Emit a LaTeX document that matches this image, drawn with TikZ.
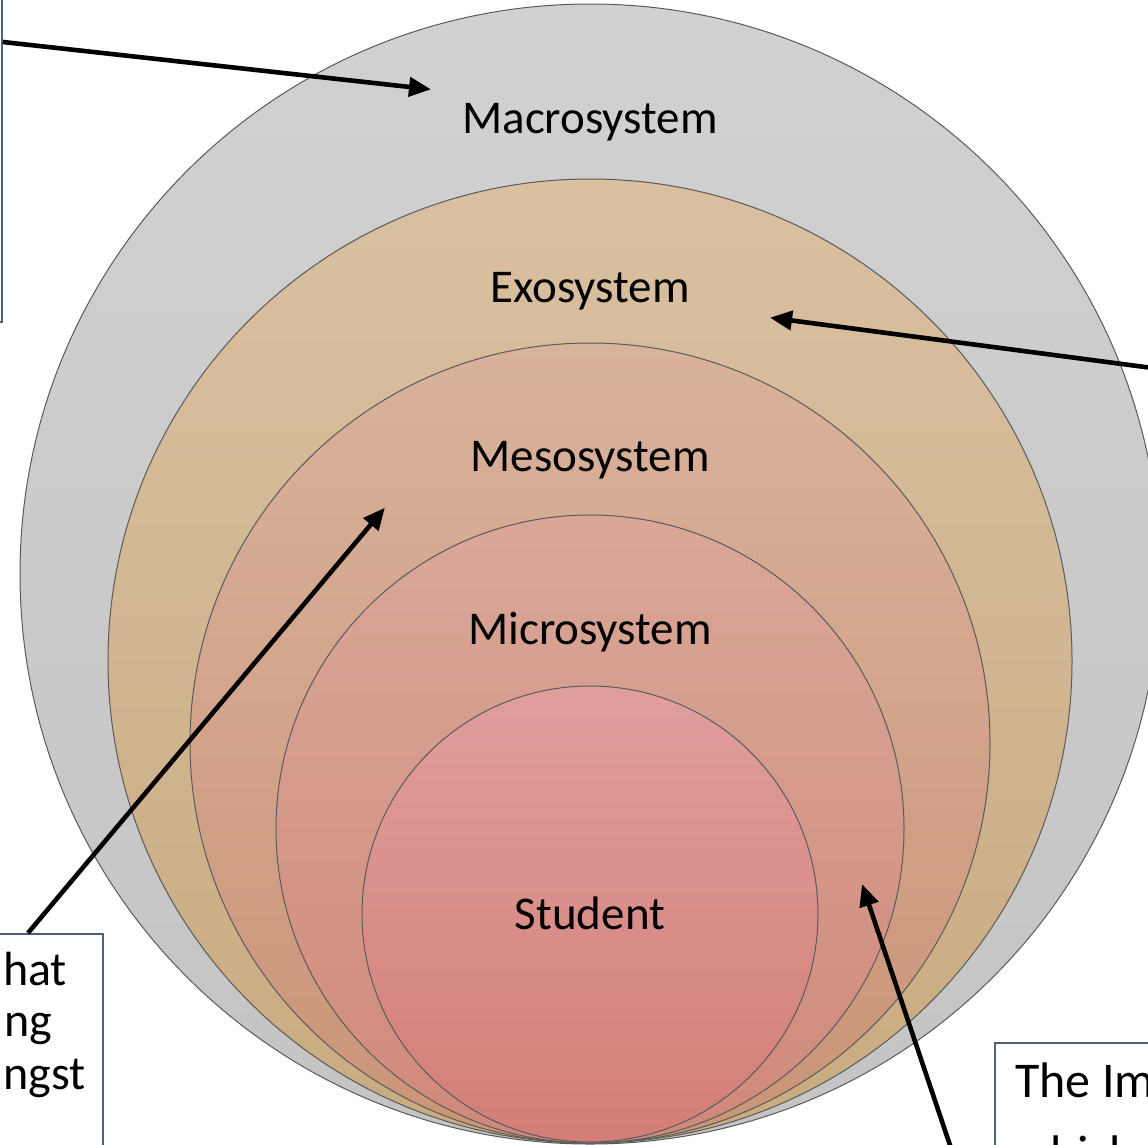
\documentclass[tikz,border=0pt]{standalone}
\usepackage{fontspec}
\setmainfont{Carlito}
\usetikzlibrary{arrows.meta,shapes.geometric}
\definecolor{ringline}{HTML}{5A5A5A}
\definecolor{boxline}{HTML}{4F6079}
\definecolor{macT}{HTML}{D1D1D1}\definecolor{macB}{HTML}{C4C4C4}
\definecolor{exoT}{HTML}{D9C0A1}\definecolor{exoB}{HTML}{C9AB80}
\definecolor{mesT}{HTML}{D9B29C}\definecolor{mesB}{HTML}{CA9477}
\definecolor{micT}{HTML}{D9A798}\definecolor{micB}{HTML}{D0897B}
\definecolor{stuT}{HTML}{DF9E9C}\definecolor{stuB}{HTML}{D37E77}
\tikzset{
  ring/.style={draw=ringline, line width=1pt},
  lbl/.style={font=\fontsize{47}{56}\selectfont, anchor=base, inner sep=0pt},
  boxtxtL/.style={font=\fontsize{48}{58}\selectfont, anchor=base west, inner sep=0pt},
  boxtxtR/.style={font=\fontsize{50}{60}\selectfont, anchor=base west, inner sep=0pt},
  notebox/.style={draw=boxline, line width=2pt, fill=white, rectangle, inner sep=0pt},
  pointer/.style={line width=4.6pt, -{Triangle[length=22pt,width=19pt]}, shorten >=-3pt}
}
\begin{document}
\begin{tikzpicture}[x=1pt,y=-1pt]
\useasboundingbox (0,0) rectangle (1148,1144);
\clip (0,0) rectangle (1148,1144);
\fill[white] (0,0) rectangle (1148,1144);
% nested circles, all tangent at bottom
\shade[ring, top color=macT, bottom color=macB] (590,574) circle[radius=570pt];
\shade[ring, top color=exoT, bottom color=exoB] (590,661) circle[radius=482pt];
\shade[ring, top color=mesT, bottom color=mesB] (590,743) circle[radius=400pt];
\shade[ring, top color=micT, bottom color=micB] (590,829) circle[radius=314pt];
\shade[ring, top color=stuT, bottom color=stuB] (590,914) circle[radius=228pt];
% labels
\node[lbl] (macro) at (590,133) {Macrosystem};
\node[lbl] (exo) at (590,302) {Exosystem};
\node[lbl] (meso) at (590,471) {Mesosystem};
\node[lbl] (micro) at (590,644) {Microsystem};
\node[lbl] (stud) at (590,929) {Student};
% note boxes (mostly outside the frame)
\node[notebox, minimum width=500pt, minimum height=500pt, anchor=south east] (boxA) at (3,323) {};
\node[notebox, minimum width=400pt, minimum height=300pt, anchor=north east] (boxB) at (104,933) {};
\node[notebox, minimum width=400pt, minimum height=300pt, anchor=north west] (boxC) at (994,1042) {};
\node[notebox, minimum width=400pt, minimum height=500pt, anchor=west] (boxD) at (1160,380) {};
% text visible in boxes
\node[boxtxtL] (b1) at (3,985) {hat};
\node[boxtxtL] (b2) at (4,1036) {ng};
\node[boxtxtL] (b3) at (3,1089) {ngst};
\node[boxtxtR] (c1) at (1015,1097) {The Im};
\node[boxtxtR] (c2) at (1015,1170) {which s};
% arrow targets and sources
\coordinate (tA) at (428,89);
\coordinate (tD) at (773,318);
\coordinate (tB) at (383,510);
\coordinate (tC) at (863,887);
\coordinate (sA) at (boxA.east |- 0,42);
\coordinate (sD) at (boxD.west |- 0,369);
\coordinate (sB) at (28,933);
\coordinate (sC) at (955,1160);
\draw[pointer] (sA) -- (tA);
\draw[pointer] (sD) -- (tD);
\draw[pointer] (sB) -- (tB);
\draw[pointer] (sC) -- (tC);
\end{tikzpicture}
\end{document}
